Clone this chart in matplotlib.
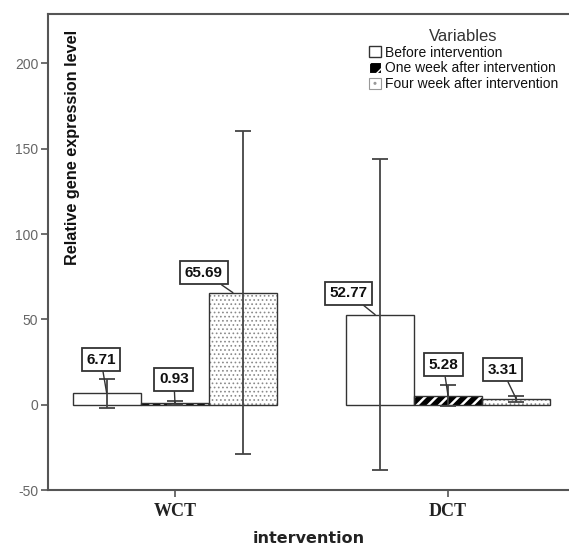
import matplotlib
matplotlib.use("Agg")
import matplotlib.pyplot as plt
import numpy as np
from matplotlib.patches import Patch

# ---- data ----
groups = ["WCT", "DCT"]
series = ["Before intervention", "One week after intervention", "Four week after intervention"]
before = [6.71, 52.77]
one_week = [0.93, 5.28]
four_week = [65.69, 3.31]
err_before = [8.5, 91.0]
err_one = [1.2, 6.0]
err_four = [94.5, 2.0]
yticks = [-50, 0, 50, 100, 150, 200]

values = [before, one_week, four_week]
errors = [err_before, err_one, err_four]

fig = plt.figure(figsize=(5.69, 5.47), dpi=100)
ax = fig.add_axes([48/569, 1-490/547, 1-48/569, (490-14)/547])

x = np.arange(len(groups))
width = 0.25
offsets = [-0.25, 0.0, 0.25]

styles = [
    dict(facecolor="white", edgecolor="#222222", hatch=None, hlw=1.0),
    dict(facecolor="black", edgecolor="white", hatch="///", hlw=1.8),
    dict(facecolor="white", edgecolor="#8a8a8a", hatch="....", hlw=0.7),
]

for i in range(3):
    st = styles[i]
    pos = x + offsets[i]
    with plt.rc_context({"hatch.linewidth": st["hlw"]}):
        bars = ax.bar(pos, values[i], width, facecolor=st["facecolor"], edgecolor=st["edgecolor"],
                      hatch=st["hatch"], linewidth=0, zorder=2)
        for b in bars:
            if hasattr(b, "set_hatch_linewidth"):
                b.set_hatch_linewidth(st["hlw"])
    ax.bar(pos, values[i], width, facecolor="none", edgecolor="#333333", linewidth=1.0, zorder=3)
    ax.errorbar(pos, values[i], yerr=errors[i], fmt="none", ecolor="#444444",
                elinewidth=1.3, capsize=6, capthick=1.3, zorder=4)

# value labels (box positions in data coords: layout)
label_pos = {
    (0, 0): (-0.271, 26.4, -0.25),
    (1, 0): (-0.004, 14.9, 0.0),
    (2, 0): (0.106, 77.4, 0.212),
    (0, 1): (0.636, 65.3, 0.733),
    (1, 1): (0.983, 23.4, 1.0),
    (2, 1): (1.198, 20.5, 1.25),
}
for (i, g), (tx, ty, px) in label_pos.items():
    v = values[i][g]
    ax.annotate(f"{v:.2f}", xy=(px, v), xytext=(tx, ty), textcoords="data",
                ha="center", va="center", fontsize=11, fontweight="bold",
                family="Liberation Sans", color="#111111",
                bbox=dict(boxstyle="square,pad=0.3", facecolor="white", edgecolor="#333333", linewidth=1.3),
                arrowprops=dict(arrowstyle="-", color="#333333", lw=1.0, shrinkA=0, shrinkB=0),
                zorder=5)

ax.set_xlim(-0.465, 1.443)
ax.set_ylim(-50, 229)
ax.set_yticks(yticks)
ax.set_yticklabels([str(t) for t in yticks], fontsize=10, color="#666666", family="Liberation Sans")
ax.set_xticks(x)
ax.set_xticklabels(groups, fontsize=13, fontweight="bold", family="Liberation Serif", color="#222222")
ax.tick_params(axis="y", length=5, width=1.2, color="#555555", pad=2)
ax.tick_params(axis="x", length=5, width=1.2, color="#555555", pad=4)

for s in ["left", "bottom", "top"]:
    ax.spines[s].set_color("#555555")
    ax.spines[s].set_linewidth(1.5)
ax.spines["right"].set_visible(False)

ax.set_xlabel("intervention", fontsize=11.5, fontweight="bold", family="DejaVu Sans", color="#222222", labelpad=8)
ax.text(24/521, (490-30)/476, "Relative gene expression level", rotation=90, ha="center", va="top",
        transform=ax.transAxes, fontsize=11.7, fontweight="bold", family="Liberation Sans", color="#111111")

handles = [
    Patch(facecolor="white", edgecolor="#333333", linewidth=1.0),
    Patch(facecolor="black", edgecolor="white", hatch="//", linewidth=0.8),
    Patch(facecolor="white", edgecolor="#999999", hatch="..", linewidth=0.8),
]
leg = ax.legend(handles, series, title="Variables", loc="upper left",
                bbox_to_anchor=(362/569, 1-22/547), bbox_transform=fig.transFigure,
                frameon=False, borderpad=0, handlelength=0.85, handleheight=0.85,
                handletextpad=0.3, labelspacing=0.12,
                prop=dict(family="Liberation Sans", size=10))
leg.get_title().set_fontsize(12)
leg.get_title().set_family("Liberation Sans")
leg.get_title().set_color("#333333")
for t in leg.get_texts():
    t.set_color("#111111")

fig.savefig("out.png", dpi=100)
